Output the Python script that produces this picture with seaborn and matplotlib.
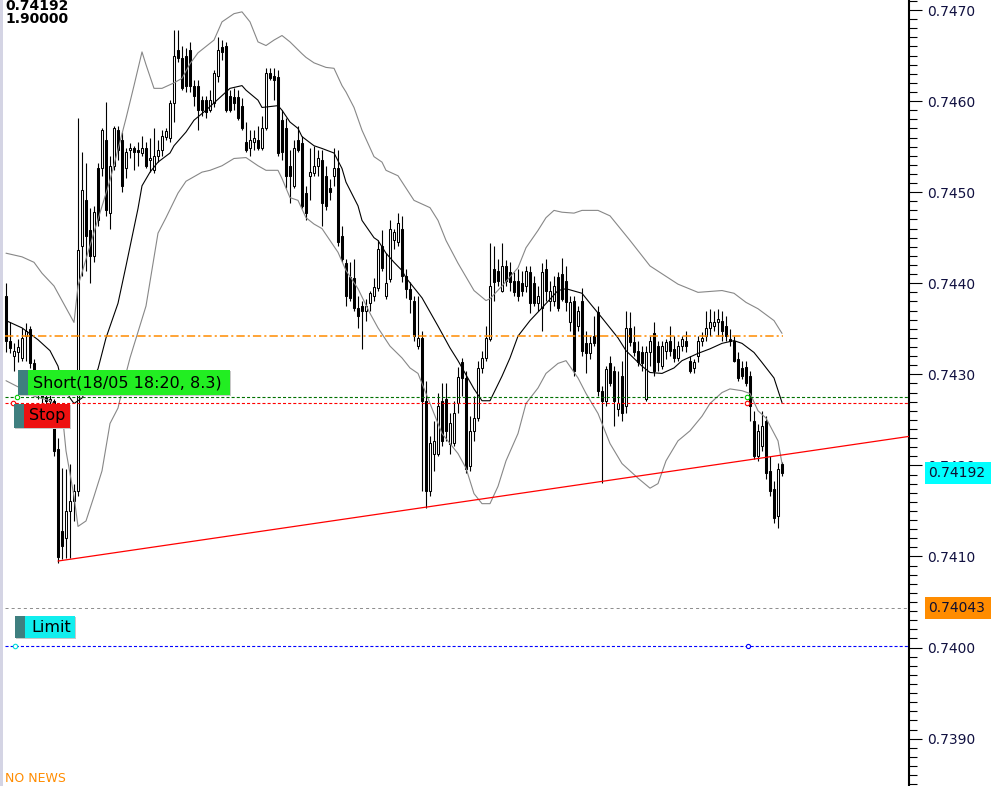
import numpy as np
import pandas as pd
import matplotlib
matplotlib.use("Agg")
import matplotlib.pyplot as plt
import seaborn as sns
from matplotlib.patches import Rectangle
from matplotlib.ticker import FixedLocator, FixedFormatter

# ---------------- data ----------------
open_ = [
0.74386, 0.74337, 0.74320, 0.74324, 0.74318, 0.74342, 0.74350, 0.74312, 0.74293, 0.74280,
0.74275, 0.74271, 0.74271, 0.74218, 0.74128, 0.74120, 0.74150, 0.74161, 0.74172, 0.74441,
0.74491, 0.74458, 0.74430, 0.74526, 0.74526, 0.74557, 0.74477, 0.74529, 0.74568, 0.74557,
0.74527, 0.74546, 0.74548, 0.74546, 0.74543, 0.74549, 0.74535, 0.74524, 0.74540, 0.74546,
0.74561, 0.74559, 0.74598, 0.74656, 0.74647, 0.74650, 0.74656, 0.74617, 0.74617, 0.74601,
0.74601, 0.74590, 0.74598, 0.74628, 0.74659, 0.74660, 0.74606, 0.74604, 0.74605, 0.74595,
0.74555, 0.74548, 0.74555, 0.74557, 0.74549, 0.74571, 0.74631, 0.74628, 0.74626, 0.74579,
0.74570, 0.74529, 0.74507, 0.74557, 0.74554, 0.74499, 0.74518, 0.74521, 0.74529, 0.74535,
0.74518, 0.74505, 0.74518, 0.74526, 0.74452, 0.74422, 0.74407, 0.74406, 0.74373, 0.74375,
0.74370, 0.74378, 0.74386, 0.74395, 0.74441, 0.74386, 0.74405, 0.74447, 0.74445, 0.74460,
0.74408, 0.74394, 0.74381, 0.74331, 0.74340, 0.74271, 0.74172, 0.74213, 0.74213, 0.74271,
0.74273, 0.74224, 0.74225, 0.74268, 0.74313, 0.74296, 0.74199, 0.74238, 0.74252, 0.74307,
0.74318, 0.74339, 0.74416, 0.74414, 0.74392, 0.74419, 0.74412, 0.74403, 0.74403, 0.74400,
0.74397, 0.74412, 0.74400, 0.74378, 0.74373, 0.74416, 0.74381, 0.74381, 0.74407, 0.74410,
0.74403, 0.74357, 0.74381, 0.74353, 0.74381, 0.74334, 0.74323, 0.74342, 0.74368, 0.74282,
0.74271, 0.74312, 0.74304, 0.74262, 0.74298, 0.74265, 0.74351, 0.74335, 0.74326, 0.74324,
0.74273, 0.74324, 0.74345, 0.74331, 0.74309, 0.74326, 0.74337, 0.74328, 0.74318, 0.74331,
0.74337, 0.74315, 0.74307, 0.74320, 0.74337, 0.74342, 0.74351, 0.74353, 0.74357, 0.74359,
0.74353, 0.74339, 0.74337, 0.74317, 0.74307, 0.74308, 0.74298, 0.74249, 0.74210, 0.74221,
0.74249, 0.74194, 0.74174, 0.74144, 0.74202]

high = [
0.74400, 0.74357, 0.74334, 0.74339, 0.74351, 0.74356, 0.74353, 0.74317, 0.74302, 0.74287,
0.74284, 0.74280, 0.74273, 0.74230, 0.74197, 0.74196, 0.74202, 0.74180, 0.74581, 0.74544,
0.74532, 0.74483, 0.74485, 0.74532, 0.74570, 0.74599, 0.74540, 0.74573, 0.74573, 0.74566,
0.74549, 0.74554, 0.74551, 0.74555, 0.74562, 0.74555, 0.74559, 0.74570, 0.74557, 0.74568,
0.74570, 0.74601, 0.74678, 0.74678, 0.74661, 0.74658, 0.74665, 0.74623, 0.74623, 0.74606,
0.74606, 0.74612, 0.74634, 0.74670, 0.74667, 0.74665, 0.74612, 0.74614, 0.74612, 0.74603,
0.74577, 0.74568, 0.74568, 0.74573, 0.74584, 0.74636, 0.74636, 0.74636, 0.74634, 0.74590,
0.74581, 0.74546, 0.74557, 0.74573, 0.74562, 0.74507, 0.74548, 0.74551, 0.74546, 0.74546,
0.74529, 0.74515, 0.74548, 0.74546, 0.74463, 0.74427, 0.74423, 0.74427, 0.74386, 0.74381,
0.74383, 0.74392, 0.74406, 0.74447, 0.74458, 0.74433, 0.74469, 0.74460, 0.74477, 0.74474,
0.74416, 0.74401, 0.74386, 0.74386, 0.74348, 0.74293, 0.74232, 0.74249, 0.74279, 0.74290,
0.74290, 0.74257, 0.74271, 0.74308, 0.74318, 0.74304, 0.74254, 0.74276, 0.74315, 0.74326,
0.74353, 0.74444, 0.74441, 0.74427, 0.74444, 0.74425, 0.74423, 0.74412, 0.74416, 0.74414,
0.74419, 0.74419, 0.74408, 0.74397, 0.74422, 0.74427, 0.74403, 0.74408, 0.74412, 0.74428,
0.74419, 0.74386, 0.74386, 0.74375, 0.74395, 0.74348, 0.74342, 0.74364, 0.74375, 0.74287,
0.74309, 0.74320, 0.74309, 0.74304, 0.74315, 0.74370, 0.74368, 0.74353, 0.74337, 0.74331,
0.74331, 0.74342, 0.74357, 0.74337, 0.74337, 0.74339, 0.74353, 0.74342, 0.74337, 0.74342,
0.74348, 0.74320, 0.74317, 0.74342, 0.74346, 0.74370, 0.74372, 0.74370, 0.74372, 0.74370,
0.74364, 0.74350, 0.74342, 0.74324, 0.74315, 0.74315, 0.74304, 0.74260, 0.74246, 0.74260,
0.74254, 0.74210, 0.74183, 0.74203, 0.74204]

low = [
0.74324, 0.74323, 0.74304, 0.74313, 0.74315, 0.74315, 0.74307, 0.74282, 0.74273, 0.74269,
0.74267, 0.74265, 0.74210, 0.74093, 0.74097, 0.74098, 0.74098, 0.74139, 0.74166, 0.74408,
0.74414, 0.74400, 0.74423, 0.74463, 0.74518, 0.74474, 0.74460, 0.74524, 0.74535, 0.74500,
0.74516, 0.74537, 0.74524, 0.74529, 0.74540, 0.74526, 0.74522, 0.74521, 0.74533, 0.74540,
0.74557, 0.74555, 0.74577, 0.74643, 0.74612, 0.74610, 0.74610, 0.74595, 0.74568, 0.74584,
0.74581, 0.74588, 0.74594, 0.74621, 0.74645, 0.74588, 0.74588, 0.74590, 0.74579, 0.74568,
0.74544, 0.74540, 0.74546, 0.74546, 0.74546, 0.74568, 0.74623, 0.74601, 0.74540, 0.74535,
0.74505, 0.74488, 0.74505, 0.74544, 0.74483, 0.74469, 0.74491, 0.74518, 0.74518, 0.74463,
0.74480, 0.74491, 0.74507, 0.74441, 0.74423, 0.74375, 0.74381, 0.74370, 0.74351, 0.74328,
0.74359, 0.74370, 0.74381, 0.74392, 0.74414, 0.74383, 0.74401, 0.74438, 0.74441, 0.74401,
0.74384, 0.74367, 0.74337, 0.74328, 0.74172, 0.74153, 0.74166, 0.74194, 0.74210, 0.74221,
0.74227, 0.74213, 0.74221, 0.74258, 0.74276, 0.74192, 0.74194, 0.74227, 0.74249, 0.74302,
0.74315, 0.74337, 0.74381, 0.74397, 0.74390, 0.74397, 0.74392, 0.74386, 0.74381, 0.74386,
0.74390, 0.74367, 0.74375, 0.74370, 0.74348, 0.74381, 0.74370, 0.74375, 0.74370, 0.74381,
0.74370, 0.74348, 0.74298, 0.74348, 0.74320, 0.74301, 0.74317, 0.74331, 0.74276, 0.74181,
0.74265, 0.74287, 0.74243, 0.74254, 0.74249, 0.74258, 0.74331, 0.74320, 0.74309, 0.74304,
0.74271, 0.74309, 0.74298, 0.74304, 0.74306, 0.74317, 0.74320, 0.74313, 0.74315, 0.74326,
0.74324, 0.74302, 0.74302, 0.74313, 0.74331, 0.74337, 0.74342, 0.74348, 0.74342, 0.74337,
0.74337, 0.74331, 0.74313, 0.74293, 0.74295, 0.74287, 0.74249, 0.74207, 0.74205, 0.74216,
0.74185, 0.74166, 0.74137, 0.74131, 0.74188]

close = [
0.74337, 0.74329, 0.74326, 0.74330, 0.74340, 0.74348, 0.74312, 0.74293, 0.74280, 0.74275,
0.74271, 0.74273, 0.74216, 0.74099, 0.74111, 0.74150, 0.74161, 0.74172, 0.74436, 0.74502,
0.74452, 0.74430, 0.74478, 0.74469, 0.74568, 0.74480, 0.74529, 0.74571, 0.74546, 0.74507,
0.74544, 0.74548, 0.74544, 0.74544, 0.74548, 0.74529, 0.74537, 0.74540, 0.74546, 0.74562,
0.74567, 0.74598, 0.74650, 0.74647, 0.74614, 0.74617, 0.74617, 0.74606, 0.74590, 0.74590,
0.74588, 0.74601, 0.74631, 0.74656, 0.74654, 0.74590, 0.74590, 0.74598, 0.74581, 0.74570,
0.74546, 0.74557, 0.74560, 0.74548, 0.74571, 0.74631, 0.74625, 0.74623, 0.74543, 0.74544,
0.74518, 0.74518, 0.74548, 0.74546, 0.74485, 0.74477, 0.74522, 0.74529, 0.74537, 0.74488,
0.74485, 0.74500, 0.74526, 0.74445, 0.74427, 0.74386, 0.74384, 0.74373, 0.74364, 0.74370,
0.74375, 0.74389, 0.74396, 0.74438, 0.74417, 0.74400, 0.74460, 0.74456, 0.74466, 0.74408,
0.74394, 0.74383, 0.74342, 0.74340, 0.74271, 0.74172, 0.74225, 0.74227, 0.74265, 0.74227,
0.74238, 0.74247, 0.74258, 0.74297, 0.74296, 0.74196, 0.74238, 0.74252, 0.74307, 0.74318,
0.74340, 0.74397, 0.74401, 0.74403, 0.74419, 0.74403, 0.74401, 0.74390, 0.74386, 0.74392,
0.74414, 0.74378, 0.74378, 0.74386, 0.74412, 0.74392, 0.74392, 0.74397, 0.74373, 0.74383,
0.74379, 0.74379, 0.74304, 0.74370, 0.74326, 0.74323, 0.74334, 0.74334, 0.74282, 0.74271,
0.74306, 0.74291, 0.74271, 0.74269, 0.74258, 0.74351, 0.74335, 0.74324, 0.74313, 0.74312,
0.74324, 0.74337, 0.74304, 0.74313, 0.74331, 0.74335, 0.74326, 0.74318, 0.74331, 0.74339,
0.74331, 0.74304, 0.74313, 0.74337, 0.74340, 0.74351, 0.74357, 0.74357, 0.74361, 0.74348,
0.74342, 0.74337, 0.74315, 0.74296, 0.74298, 0.74291, 0.74265, 0.74210, 0.74238, 0.74243,
0.74192, 0.74172, 0.74142, 0.74196, 0.74192]

# Bollinger bands (sampled along the bar index)
upper_idx = [0, 4, 7, 9, 12, 14, 17, 18, 22, 26, 30, 32, 34, 35, 37, 39, 42, 44, 46, 48,
             52, 54, 57, 59, 61, 63, 65, 67, 69, 71, 74, 75, 77, 80, 82, 84, 85, 87, 89, 92,
             94, 95, 98, 102, 106, 108, 110, 113, 117, 120, 121, 124, 128, 130, 133, 135, 137, 139, 142, 144,
             148, 151, 156, 161, 168, 173, 179, 182, 185, 188, 192, 194]
upper_val = [0.74433, 0.74429, 0.74423, 0.74411, 0.74397, 0.74381, 0.74357, 0.74397, 0.74456, 0.74513,
             0.74581, 0.74617, 0.74654, 0.74640, 0.74614, 0.74614, 0.74620, 0.74625, 0.74641, 0.74653,
             0.74667, 0.74687, 0.74696, 0.74698, 0.74687, 0.74665, 0.74661, 0.74667, 0.74672, 0.74665,
             0.74652, 0.74648, 0.74642, 0.74637, 0.74636, 0.74617, 0.74610, 0.74593, 0.74568, 0.74539,
             0.74533, 0.74524, 0.74518, 0.74491, 0.74483, 0.74469, 0.74447, 0.74422, 0.74392, 0.74381,
             0.74383, 0.74397, 0.74417, 0.74439, 0.74458, 0.74472, 0.74480, 0.74478, 0.74477, 0.74480,
             0.74480, 0.74474, 0.74447, 0.74419, 0.74399, 0.74390, 0.74392, 0.74389, 0.74379, 0.74372,
             0.74359, 0.74345]

mid_idx = [0, 4, 8, 11, 13, 14, 16, 17, 19, 23, 25, 28, 30, 33, 34, 36, 38, 41, 42, 45,
           47, 50, 52, 55, 56, 59, 60, 63, 64, 68, 69, 71, 73, 74, 77, 79, 82, 84, 85, 88,
           89, 92, 93, 95, 97, 99, 100, 104, 108, 111, 113, 117, 119, 121, 124, 126, 128, 131, 134, 138,
           140, 144, 146, 149, 153, 155, 159, 161, 164, 167, 169, 173, 176, 179, 182, 184, 187, 189, 192, 194]
mid_val = [0.74359, 0.74351, 0.74338, 0.74326, 0.74309, 0.74290, 0.74274, 0.74268, 0.74274, 0.74306,
           0.74340, 0.74378, 0.74419, 0.74482, 0.74507, 0.74522, 0.74533, 0.74543, 0.74551, 0.74566,
           0.74579, 0.74590, 0.74598, 0.74610, 0.74614, 0.74617, 0.74612, 0.74601, 0.74593, 0.74595,
           0.74590, 0.74577, 0.74570, 0.74561, 0.74551, 0.74548, 0.74543, 0.74526, 0.74511, 0.74485,
           0.74469, 0.74450, 0.74447, 0.74433, 0.74423, 0.74414, 0.74406, 0.74384, 0.74353, 0.74329,
           0.74315, 0.74284, 0.74271, 0.74271, 0.74298, 0.74318, 0.74342, 0.74359, 0.74373, 0.74392,
           0.74394, 0.74389, 0.74378, 0.74362, 0.74340, 0.74326, 0.74309, 0.74302, 0.74301, 0.74307,
           0.74315, 0.74323, 0.74328, 0.74334, 0.74337, 0.74334, 0.74324, 0.74313, 0.74296, 0.74269]

lower_idx = [0, 4, 7, 11, 14, 15, 17, 18, 20, 22, 24, 26, 28, 30, 31, 35, 38, 40, 43, 45,
             49, 51, 54, 57, 60, 63, 65, 68, 69, 71, 73, 75, 77, 79, 81, 83, 85, 88, 91, 93,
             96, 99, 101, 103, 107, 109, 113, 115, 117, 119, 121, 123, 125, 128, 130, 133, 135, 138, 140, 143,
             145, 148, 151, 154, 158, 161, 163, 165, 168, 171, 174, 176, 179, 181, 184, 186, 188, 190, 193, 194]
lower_val = [0.74293, 0.74284, 0.74276, 0.74271, 0.74260, 0.74216, 0.74166, 0.74133, 0.74139, 0.74166,
             0.74194, 0.74246, 0.74263, 0.74301, 0.74318, 0.74375, 0.74455, 0.74472, 0.74499, 0.74512,
             0.74522, 0.74524, 0.74529, 0.74537, 0.74538, 0.74529, 0.74524, 0.74524, 0.74515, 0.74494,
             0.74491, 0.74472, 0.74465, 0.74460, 0.74447, 0.74434, 0.74414, 0.74394, 0.74367, 0.74351,
             0.74331, 0.74318, 0.74307, 0.74301, 0.74257, 0.74235, 0.74213, 0.74197, 0.74169, 0.74158,
             0.74158, 0.74177, 0.74205, 0.74235, 0.74268, 0.74285, 0.74301, 0.74312, 0.74315, 0.74296,
             0.74279, 0.74257, 0.74224, 0.74202, 0.74186, 0.74175, 0.74180, 0.74205, 0.74227, 0.74238,
             0.74254, 0.74268, 0.74280, 0.74284, 0.74282, 0.74279, 0.74260, 0.74252, 0.74227, 0.74202]

entry_level = 0.74342      # orange dash-dot
short_level = 0.74275      # green dashed
stop_level = 0.74269       # red dashed
ask_level = 0.74043        # grey dashed / orange tag
limit_level = 0.74002      # blue dashed
trend_idx = [13, 226]
trend_val = [0.74095, 0.74232]
last_price = 0.74192
axis_ticks = [0.7390, 0.7400, 0.7410, 0.7420, 0.7430, 0.7440, 0.7450, 0.7460, 0.7470]
axis_labels = ["0.7390", "0.7400", "0.7410", "0.7420", "0.7430", "0.7440", "0.7450", "0.7460", "0.7470"]
info_lines = ["0.74192", "1.90000"]
short_text = "Short(18/05 18:20, 8.3)"
stop_text = "Stop"
limit_text = "Limit"
news_text = "NO NEWS"

# ---------------- figure ----------------
sns.set_style("white")
plt.rcParams['font.family'] = ['DejaVu Sans']
plt.rcParams['lines.scale_dashes'] = False

W, H = 999, 786
fig = plt.figure(figsize=(W / 100, H / 100), dpi=100)
fig.patch.set_facecolor('white')
ax = fig.add_axes([0, 0, 909 / W, 1])
ax.set_facecolor('white')
ax.set_xlim(-1.5, 225.75)
ax.set_ylim(0.73848, 0.74711)

n = len(close)
idx = np.arange(n)
o = np.array(open_); c = np.array(close); h = np.array(high); l = np.array(low)
top = np.maximum.reduce([h, o, c]); bot = np.minimum.reduce([l, o, c])

# wicks
ax.vlines(idx, bot, top, color='black', lw=0.8, zorder=2)
# bodies
bull = c >= o
body_h = np.maximum(np.abs(c - o), 0.000004)
body_b = np.minimum(o, c)
ax.bar(idx[bull], body_h[bull], bottom=body_b[bull], width=0.58, color='white',
       edgecolor='black', linewidth=0.75, zorder=3)
ax.bar(idx[~bull], body_h[~bull], bottom=body_b[~bull], width=0.58, color='black',
       edgecolor='black', linewidth=0.75, zorder=3)

# bands through seaborn
bands = pd.concat([
    pd.DataFrame({'i': upper_idx, 'p': upper_val, 'band': 'upper'}),
    pd.DataFrame({'i': mid_idx, 'p': mid_val, 'band': 'mid'}),
    pd.DataFrame({'i': lower_idx, 'p': lower_val, 'band': 'lower'}),
])
sns.lineplot(data=bands, x='i', y='p', hue='band', units='band', estimator=None, sort=False,
             palette={'upper': '#878787', 'mid': '#000000', 'lower': '#878787'},
             linewidth=0.8, legend=False, ax=ax, zorder=4)

# horizontal levels
ax.plot([-0.25, 194.25], [entry_level, entry_level], color='#FF8C00', lw=1.1,
        dashes=(6, 2.2, 1.5, 2.2), zorder=5)
ax.axhline(short_level, xmin=5 / 909, xmax=1, color='#007000', lw=0.8, dashes=(2.2, 1.5), zorder=5)
ax.axhline(stop_level, xmin=5 / 909, xmax=1, color='#FF0000', lw=0.8, dashes=(2.2, 1.5), zorder=5)
ax.axhline(ask_level, xmin=5 / 909, xmax=1, color='#8c8c8c', lw=0.7, dashes=(2.2, 2.2), zorder=5)
ax.axhline(limit_level, xmin=5 / 909, xmax=1, color='#0000FF', lw=0.8, dashes=(2.2, 1.5), zorder=5)
ax.plot(trend_idx, trend_val, color='#FF0000', lw=0.9, zorder=5)

# small level markers
ax.plot([2.75, 185.25], [short_level, short_level], 'o', ms=3.2, mfc='white', mec='#00CC00', mew=0.8, zorder=6)
ax.plot([1.75, 185.25], [stop_level, stop_level], 'o', ms=3.2, mfc='white', mec='#FF0000', mew=0.8, zorder=6)
ax.plot([2.25], [limit_level], 'o', ms=3.2, mfc='white', mec='#00DDDD', mew=0.8, zorder=6)
ax.plot([185.5], [limit_level], 'o', ms=3.0, mfc='white', mec='#0000FF', mew=0.8, zorder=6)

# axis styling
ax.set_xticks([])
ax.set_xlabel(''); ax.set_ylabel('')
for s in ['top', 'left', 'bottom']:
    ax.spines[s].set_visible(False)
ax.spines['right'].set_visible(True)
ax.spines['right'].set_color('black')
ax.spines['right'].set_linewidth(1.5)
ax.yaxis.tick_right()
ax.yaxis.set_major_locator(FixedLocator(axis_ticks))
ax.yaxis.set_major_formatter(FixedFormatter(axis_labels))
ax.yaxis.set_minor_locator(FixedLocator(list(np.round(np.arange(0.7385, 0.74715, 0.0001), 4))))
ax.tick_params(axis='y', which='major', length=9.5, width=0.8, color='black', pad=3.5,
               labelsize=10, labelcolor='#101040', right=True, left=False)
ax.tick_params(axis='y', which='minor', length=5.5, width=0.8, color='black', right=True, left=False)

# ---------------- annotations in pixel layout ----------------
def fx(x):
    return x / W

def fy(y):
    return 1 - y / H

def price_py(p):
    disp = ax.transData.transform((0, p))
    return H - disp[1]

def rect(x0, y0, x1, y1, color, z=20):
    fig.add_artist(Rectangle((fx(x0), fy(y1)), (x1 - x0) / W, (y1 - y0) / H,
                             transform=fig.transFigure, facecolor=color, edgecolor='none', zorder=z))

def tag(x0, y0, x1, y1, color, text, tx):
    rect(x0 + 1, y0 + 1, x1 + 1, y1 + 1, '#c8c8c8', z=19)
    rect(x0, y0, x0 + 10, y1, '#3f7f7f', z=20)
    rect(x0 + 10, y0, x1, y1, color, z=20)
    fig.text(fx(tx), fy((y0 + y1) / 2), text, fontsize=11.5, color='black',
             va='center', ha='left', zorder=21)

tag(18, 370, 230, 395, '#22EE22', short_text, 33)
tag(14, 404, 70, 428, '#EE1111', stop_text, 29)
tag(15, 616, 75, 638, '#11EEEE', limit_text, 31)

# price tags on the axis
for p, col, txt in [(last_price, '#00FFFF', info_lines[0]), (ask_level, '#FF8C00', '0.74043')]:
    yc = price_py(p)
    rect(925, yc - 11, 991, yc + 11, col, z=20)
    fig.text(fx(928), fy(yc), txt, fontsize=10, color='#101030', va='center', ha='left', zorder=21)

# top-left info, bottom-left news
fig.text(fx(5), fy(6), info_lines[0], fontsize=10, fontweight='bold', color='black', va='center', ha='left')
fig.text(fx(5), fy(19), info_lines[1], fontsize=10, fontweight='bold', color='black', va='center', ha='left')
fig.text(fx(5), fy(779), news_text, fontsize=9, color='#FF8C00', va='center', ha='left')

# left border strip
rect(0, 0, 3, H, '#d4d4e4', z=22)

fig.savefig('out.png', dpi=100)
